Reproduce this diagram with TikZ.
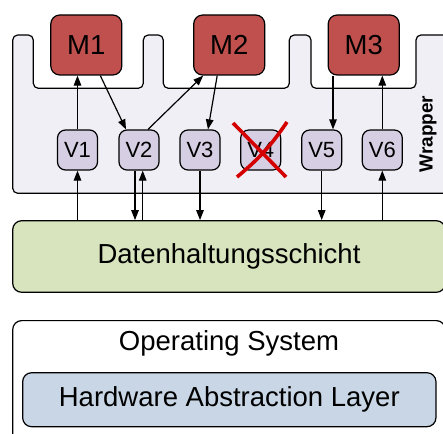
\documentclass[tikz,border=0pt]{standalone}
\usepackage{fontspec}
\setmainfont{Liberation Sans}
\usetikzlibrary{arrows.meta,positioning,calc}
\definecolor{modrot}{RGB}{192,80,77}
\definecolor{sichtlila}{RGB}{214,206,226}
\definecolor{wrapgrau}{RGB}{240,239,245}
\definecolor{datgruen}{RGB}{215,228,189}
\definecolor{halblau}{RGB}{200,214,230}
\definecolor{kreuzrot}{RGB}{212,0,0}
\tikzset{
  modul/.style={draw=black, fill=modrot, rounded corners=9pt, minimum width=71pt,
    minimum height=60pt, inner sep=0pt, font=\fontsize{27.5}{30}\selectfont},
  sicht/.style={draw=black, fill=sichtlila, rounded corners=8pt, minimum width=40pt,
    minimum height=40pt, inner sep=0pt, font=\fontsize{22}{24}\selectfont},
  schicht/.style={draw=black, rounded corners=9pt, inner sep=0pt,
    font=\fontsize{27.5}{30}\selectfont},
  pfeil/.style={-{Triangle[length=10pt,width=7.5pt]}},
}

\begin{document}
\begin{tikzpicture}[x=1pt, y=-1pt, line width=1.2pt]

	\useasboundingbox (0,0) rectangle (443,433);
	\clip (0,0) rectangle (443,433);

	% Wrapper mit Aussparungen fuer die Module
	\draw[fill=wrapgrau, rounded corners=5pt] (12.7,193.3) -- (12.7,35) -- (33.3,35)
		-- (33.3,88.3) -- (143.3,88.3) -- (143.3,35) -- (163.3,35)
		-- (163.3,88.3) -- (289.3,88.3) -- (289.3,35) -- (311,35)
		-- (311,88.3) -- (416,88.3) -- (416,35) -- (470,35)
		-- (470,193.3) -- cycle;
	\node[rotate=90, font=\fontsize{19}{20}\selectfont\bfseries] (wrapper) at (428,134) {Wrapper};

	% Module
	\node[modul] (m1) at (86.3,45) {M1};
	\node[modul] (m2) at (229.2,45) {M2};
	\node[modul] (m3) at (363.7,45) {M3};

	% Sichten
	\node[sicht] (v1) at (77.5,150) {V1};
	\node[sicht] (v2) at (139,150) {V2};
	\node[sicht] (v3) at (200,150) {V3};
	\node[sicht] (v4) at (260.7,150) {V4};
	\node[sicht] (v5) at (321.7,150) {V5};
	\node[sicht] (v6) at (382.3,150) {V6};

	% V4 entfaellt
	\draw[kreuzrot, line width=3.6pt] (233,123) -- (286,177);
	\draw[kreuzrot, line width=3.6pt] (287,122) to[bend left=8] (237,177);

	% Schichten
	\node[schicht, fill=datgruen, minimum width=432.6pt, minimum height=71.6pt] (daten) at (229,256.5) {Datenhaltungsschicht};
	\node[schicht, fill=white, minimum width=432.6pt, minimum height=160pt, anchor=north] (os) at (229,320) {};
	\node[font=\fontsize{27.5}{30}\selectfont] (ostext) at (229,343.5) {Operating System};
	\node[schicht, fill=halblau, minimum width=413.3pt, minimum height=54pt] (hal) at (229.3,399.7) {Hardware Abstraction Layer};

	% Verbindungen Sichten - Module
	\draw[pfeil] (v1.north) -- (v1.north |- m1.south);
	\draw[pfeil] ([xshift=14pt]m1.south) -- ([xshift=-13pt]v2.north);
	\draw[pfeil] ([xshift=9pt]v2.north) -- ([xshift=-26pt]m2.south);
	\draw[pfeil] ([xshift=-12pt]m2.south) -- ([xshift=8pt]v3.north);
	\draw[pfeil] ([xshift=-30.7pt]m3.south) -- ([xshift=-30.7pt]m3.south |- v5.north);
	\draw[pfeil] (v6.north) -- (v6.north |- m3.south);

	% Verbindungen Sichten - Datenhaltung
	\draw[pfeil] (v1.south |- daten.north) -- (v1.south);
	\draw[pfeil] ([xshift=-4pt]v2.south) -- ([xshift=-4pt]v2.south |- daten.north);
	\draw[pfeil] ([xshift=3.7pt]v2.south |- daten.north) -- ([xshift=3.7pt]v2.south);
	\draw[pfeil] (v3.south) -- (v3.south |- daten.north);
	\draw[pfeil] (v5.south) -- (v5.south |- daten.north);
	\draw[pfeil] (v6.south |- daten.north) -- (v6.south);

\end{tikzpicture}
\end{document}
